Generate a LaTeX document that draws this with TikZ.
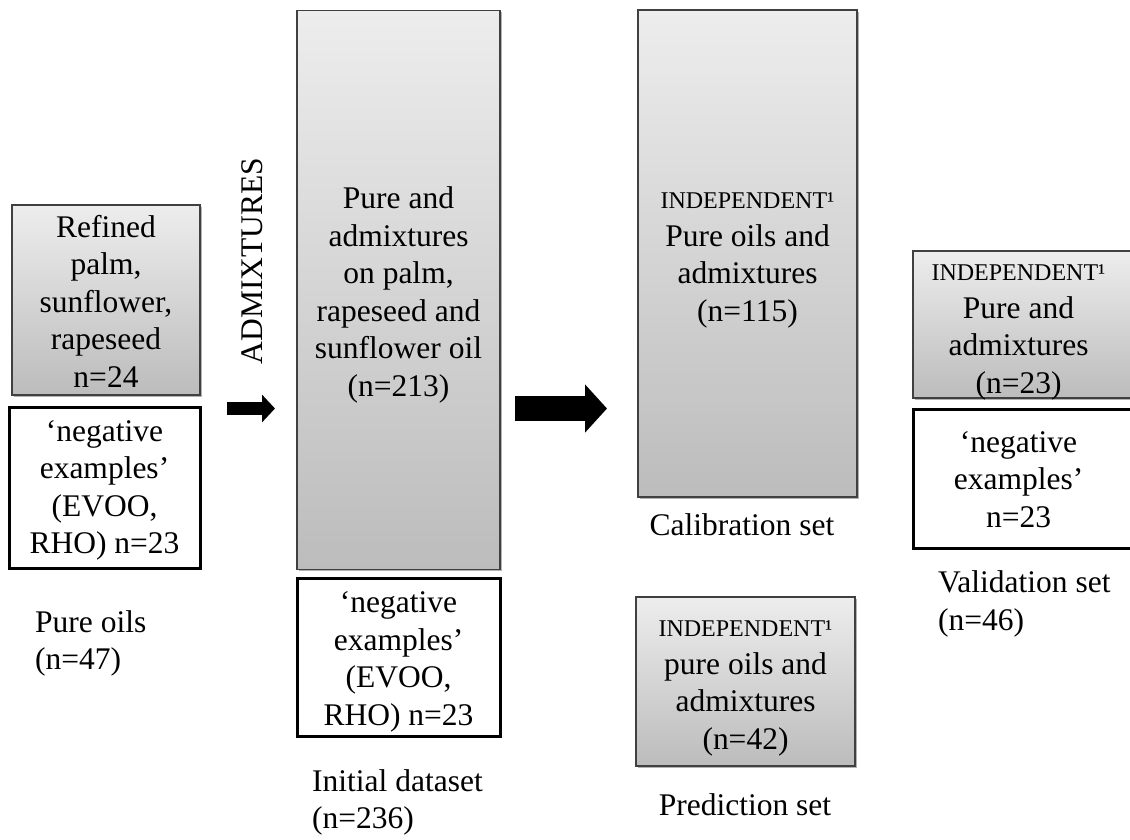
\documentclass[tikz,border=0pt]{standalone}
\usepackage{fontspec}
\setmainfont{Liberation Serif}
\usetikzlibrary{arrows.meta,shadows}
\definecolor{gtop}{HTML}{EDEDED}
\definecolor{gbot}{HTML}{BCBCBC}
\definecolor{gborder}{HTML}{404040}
\newcommand{\indep}{{\fontsize{24}{28}\selectfont INDEPENDENT¹}}
\tikzset{
  bigtxt/.style={font=\fontsize{31.5}{37.5}\selectfont},
  gradbox/.style={rectangle, draw=gborder, line width=1.5pt,
    top color=gtop, bottom color=gbot, inner sep=0pt,
    drop shadow={shadow xshift=1.5pt, shadow yshift=-1.5pt, opacity=0.3, fill=black}},
  negbox/.style={rectangle, draw=black, line width=3pt, fill=white, inner sep=0pt},
  boxtext/.style={bigtxt, inner sep=0pt, align=center},
  lbl/.style={bigtxt, inner sep=0pt},
  smallarrow/.style={line width=13pt, -{Triangle[length=13pt,width=27pt]}},
  bigarrow/.style={line width=25pt, -{Triangle[length=22pt,width=47pt]}}
}
\begin{document}
\begin{tikzpicture}[x=1pt,y=-1pt]
\useasboundingbox (0,0) rectangle (1130,839);
% left column
\node[gradbox, minimum width=188pt, minimum height=190pt] (refined) at (106,300) {};
\node[boxtext] (refinedt) at ([yshift=-1pt]refined.center) {Refined\\palm,\\sunflower,\\rapeseed\\n=24};
\node[negbox, minimum width=191pt, minimum height=161pt] (negL) at (104.5,487.5) {};
\node[boxtext] (negLt) at ([yshift=-3pt]negL.center) {‘negative\\examples’\\(EVOO,\\RHO) n=23};
\node[lbl, anchor=west, align=left] (pureoils) at (35,643.5) {Pure oils\\(n=47)};
% admixtures label and arrow
\node[lbl, rotate=90] (admix) at (252,261) {ADMIXTURES};
\coordinate (a1s) at (227,408.5);
\coordinate (a1e) at (275,408.5);
\draw[smallarrow] (a1s) -- (a1e);
% middle column
\node[gradbox, minimum width=203pt, minimum height=559pt] (mid) at (398.5,290) {};
\node[boxtext] (midt) at ([yshift=-5pt]mid.center) {Pure and\\admixtures\\on palm,\\rapeseed and\\sunflower oil\\(n=213)};
\node[negbox, minimum width=203pt, minimum height=158pt] (negM) at (398.5,657) {};
\node[boxtext] (negMt) at ([yshift=-5pt]negM.center) {‘negative\\examples’\\(EVOO,\\RHO) n=23};
\node[lbl, anchor=west, align=left] (initial) at (312,802.5) {Initial dataset\\(n=236)};
% big arrow
\coordinate (a2s) at (515,408.5);
\coordinate (a2e) at (607,408.5);
\draw[bigarrow] (a2s) -- (a2e);
% calibration / prediction
\node[gradbox, minimum width=219pt, minimum height=487pt] (calib) at (747.5,253.5) {};
\node[boxtext] (calibt) at ([yshift=-7pt]calib.center) {\indep\\Pure oils and\\admixtures\\(n=115)};
\node[lbl] (calibl) at (742,525) {Calibration set};
\node[gradbox, minimum width=219pt, minimum height=169pt] (pred) at (745.5,681.5) {};
\node[boxtext] (predt) at ([yshift=-7pt]pred.center) {\indep\\pure oils and\\admixtures\\(n=42)};
\node[lbl] (predl) at (745,805) {Prediction set};
% validation
\node[gradbox, minimum width=227pt, minimum height=147pt] (valid) at (1026.5,324.5) {};
\node[boxtext] (validt) at ([xshift=-8pt,yshift=-8pt]valid.center) {\indep\\Pure and\\admixtures\\(n=23)};
\node[negbox, minimum width=227pt, minimum height=139pt] (negV) at (1026.5,478.5) {};
\node[boxtext] (negVt) at ([xshift=-8pt,yshift=-1pt]negV.center) {‘negative\\examples’\\n=23};
\node[lbl, anchor=west, align=left] (validl) at (938,604) {Validation set\\(n=46)};
\end{tikzpicture}
\end{document}
